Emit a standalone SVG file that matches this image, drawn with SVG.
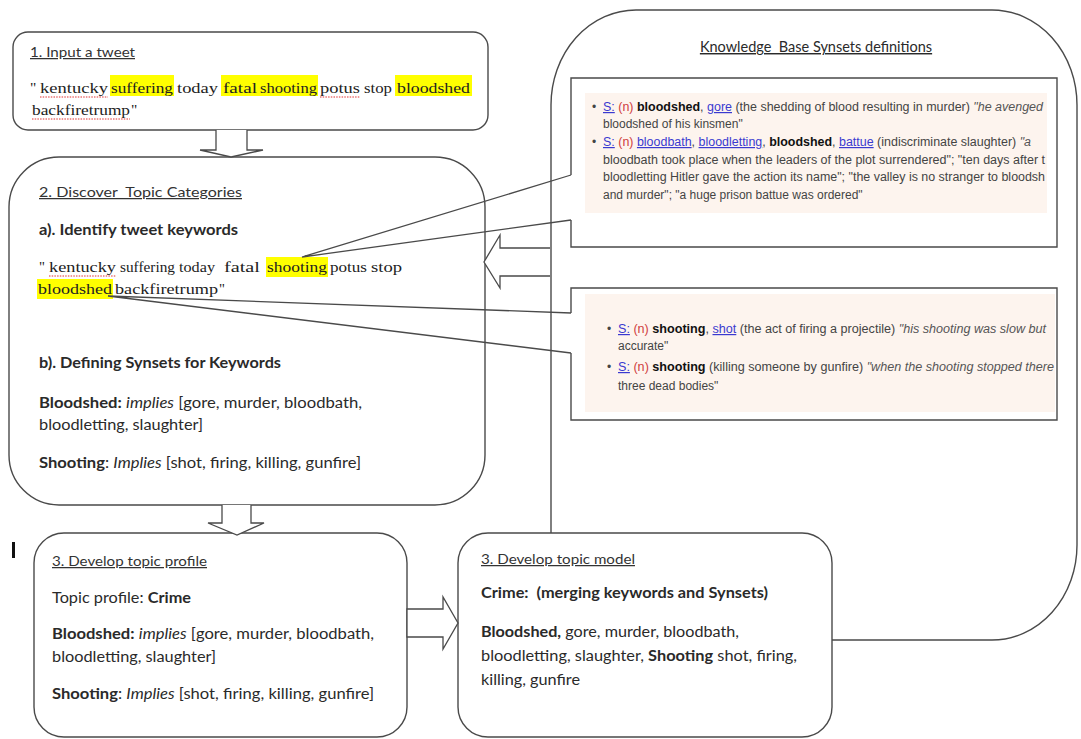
<svg xmlns="http://www.w3.org/2000/svg" width="1081" height="739" viewBox="0 0 1081 739">
  <style>
    .box { fill: #ffffff; stroke: #4a4a4a; stroke-width: 1.4; }
    .arrow { fill: #ffffff; stroke: #4a4a4a; stroke-width: 1.3; stroke-linejoin: miter; }
    .wire { fill: none; stroke: #4a4a4a; stroke-width: 1.3; }
    .cal { font-family: Lato, "Liberation Sans", sans-serif; fill: #2a2a2a; white-space: pre; }
    .head { font-size: 12.5px; text-decoration: underline; fill: #333333; }
    .body { font-size: 14.5px; }
    .b { font-weight: bold; }
    .i { font-style: italic; }
    .tw { font-family: "Liberation Serif", serif; font-size: 15.5px; fill: #222222; }
    .tw2 { font-family: "Liberation Serif", serif; font-size: 14.5px; fill: #222222; }
    .hl { fill: #ffff00; }
    .spell { stroke: #e03030; stroke-width: 1; stroke-dasharray: 1.5 1.2; fill: none; }
    .wn { font-family: "Liberation Sans", Arial, sans-serif; font-size: 12px; fill: #444444; }
    .wn .lk { fill: #3a3ad0; text-decoration: underline; }
    .wn .pos { fill: #d04040; }
    .wn .kw { fill: #111111; font-weight: bold; }
    .wn .ex { font-style: italic; fill: #555555; }
    .shade { fill: #fdf4ee; }
    .panel { fill: #ffffff; stroke: #4a4a4a; stroke-width: 1.4; }
  </style>

  <rect width="1081" height="739" fill="#ffffff"/>

  <!-- knowledge base panel (right) -->
  <g id="kb-panel">
    <rect class="panel" x="551" y="10" width="526" height="630" rx="85" ry="95"/>
    <text class="cal" x="816" y="52" text-anchor="middle" font-size="14.5" text-decoration="underline">Knowledge  Base Synsets definitions</text>
  </g>

  <!-- synset definitions for "bloodshed" -->
  <g id="synsets-bloodshed">
    <path class="panel" d="M571,175 V78 H1057 V247 H571 V220"/>
    <rect class="shade" x="585" y="93" width="462" height="120"/>
    <text class="wn" x="592" y="111">•</text>
    <text class="wn" x="603" y="111" textLength="440" lengthAdjust="spacingAndGlyphs"><tspan class="lk">S:</tspan> <tspan class="pos">(n)</tspan> <tspan class="kw">bloodshed</tspan>, <tspan class="lk">gore</tspan> (the shedding of blood resulting in murder) <tspan class="ex">"he avenged</tspan></text>
    <text class="wn ex" x="603" y="128">bloodshed of his kinsmen"</text>
    <text class="wn" x="592" y="146">•</text>
    <text class="wn" x="603" y="146" textLength="428" lengthAdjust="spacingAndGlyphs"><tspan class="lk">S:</tspan> <tspan class="pos">(n)</tspan> <tspan class="lk">bloodbath</tspan>, <tspan class="lk">bloodletting</tspan>, <tspan class="kw">bloodshed</tspan>, <tspan class="lk">battue</tspan> (indiscriminate slaughter) <tspan class="ex">"a</tspan></text>
    <text class="wn ex" x="603" y="164" textLength="442" lengthAdjust="spacingAndGlyphs">bloodbath took place when the leaders of the plot surrendered"; "ten days after t</text>
    <text class="wn ex" x="603" y="181" textLength="442" lengthAdjust="spacingAndGlyphs">bloodletting Hitler gave the action its name"; "the valley is no stranger to bloodsh</text>
    <text class="wn ex" x="603" y="199">and murder"; "a huge prison battue was ordered"</text>
  </g>

  <!-- synset definitions for "shooting" -->
  <g id="synsets-shooting">
    <path class="panel" d="M571,313 V288 H1057 V420 H571 V353"/>
    <rect class="shade" x="585" y="294" width="470" height="118"/>
    <text class="wn" x="607" y="333">•</text>
    <text class="wn" x="618" y="333" textLength="428" lengthAdjust="spacingAndGlyphs"><tspan class="lk">S:</tspan> <tspan class="pos">(n)</tspan> <tspan class="kw">shooting</tspan>, <tspan class="lk">shot</tspan> (the act of firing a projectile) <tspan class="ex">"his shooting was slow but</tspan></text>
    <text class="wn ex" x="618" y="350">accurate"</text>
    <text class="wn" x="607" y="371">•</text>
    <text class="wn" x="618" y="371" textLength="436" lengthAdjust="spacingAndGlyphs"><tspan class="lk">S:</tspan> <tspan class="pos">(n)</tspan> <tspan class="kw">shooting</tspan> (killing someone by gunfire) <tspan class="ex">"when the shooting stopped there</tspan></text>
    <text class="wn ex" x="618" y="390">three dead bodies"</text>
  </g>

  <!-- step 1 -->
  <g id="step1-input">
    <rect class="box" x="13" y="32" width="475" height="98" rx="15"/>
    <text class="cal head" x="30" y="57" textLength="105" lengthAdjust="spacingAndGlyphs">1. Input a tweet</text>
    <rect class="hl" x="110" y="75" width="64" height="21"/>
    <rect class="hl" x="221" y="75" width="97" height="21"/>
    <rect class="hl" x="395" y="75" width="77" height="21"/>
    <text class="tw" x="30" y="93">"</text>
    <text class="tw" x="40" y="93" textLength="68" lengthAdjust="spacingAndGlyphs">kentucky</text>
    <text class="tw" x="111" y="93" textLength="62" lengthAdjust="spacingAndGlyphs">suffering</text>
    <text class="tw" x="177" y="93" textLength="41" lengthAdjust="spacingAndGlyphs">today</text>
    <text class="tw" x="223" y="93" textLength="34" lengthAdjust="spacingAndGlyphs">fatal</text>
    <text class="tw" x="260" y="93" textLength="57" lengthAdjust="spacingAndGlyphs">shooting</text>
    <text class="tw" x="320" y="93" textLength="40" lengthAdjust="spacingAndGlyphs">potus</text>
    <text class="tw" x="364" y="93" textLength="28" lengthAdjust="spacingAndGlyphs">stop</text>
    <text class="tw" x="397" y="93" textLength="73" lengthAdjust="spacingAndGlyphs">bloodshed</text>
    <text class="tw" x="32" y="115" textLength="98" lengthAdjust="spacingAndGlyphs">backfiretrump</text>
    <text class="tw" x="131" y="115">"</text>
    <path class="spell" d="M40,97 H108 M320,97 H360 M32,119 H130"/>
  </g>

  <!-- step 2 -->
  <g id="step2-discover">
    <rect class="box" x="9" y="157" width="476" height="348" rx="50"/>
    <text class="cal head" x="39" y="197" textLength="203" lengthAdjust="spacingAndGlyphs">2. Discover  Topic Categories</text>
    <text class="cal body b" x="39" y="235" textLength="199" lengthAdjust="spacingAndGlyphs">a). Identify tweet keywords</text>
    <rect class="hl" x="266" y="257" width="62" height="20"/>
    <rect class="hl" x="37" y="279" width="76" height="20"/>
    <text class="tw2" x="39" y="272">"</text>
    <text class="tw2" x="49" y="272" textLength="67" lengthAdjust="spacingAndGlyphs">kentucky</text>
    <text class="tw2" x="120" y="272" textLength="55" lengthAdjust="spacingAndGlyphs">suffering</text>
    <text class="tw2" x="179" y="272" textLength="36" lengthAdjust="spacingAndGlyphs">today</text>
    <text class="tw2" x="224" y="272" textLength="36" lengthAdjust="spacingAndGlyphs">fatal</text>
    <text class="tw2" x="267" y="272" textLength="60" lengthAdjust="spacingAndGlyphs">shooting</text>
    <text class="tw2" x="330" y="272" textLength="37" lengthAdjust="spacingAndGlyphs">potus</text>
    <text class="tw2" x="371" y="272" textLength="31" lengthAdjust="spacingAndGlyphs">stop</text>
    <text class="tw2" x="38" y="294" textLength="74" lengthAdjust="spacingAndGlyphs">bloodshed</text>
    <text class="tw2" x="115" y="294" textLength="103" lengthAdjust="spacingAndGlyphs">backfiretrump</text>
    <text class="tw2" x="219" y="294">"</text>
    <path class="spell" d="M49,276 H116"/>
    <text class="cal body b" x="39" y="368" textLength="242" lengthAdjust="spacingAndGlyphs">b). Defining Synsets for Keywords</text>
    <text class="cal body" x="39" y="408" textLength="323" lengthAdjust="spacingAndGlyphs"><tspan class="b">Bloodshed:</tspan> <tspan class="i">implies</tspan> [gore, murder, bloodbath,</text>
    <text class="cal body" x="39" y="430" textLength="164" lengthAdjust="spacingAndGlyphs">bloodletting, slaughter]</text>
    <text class="cal body" x="39" y="468" textLength="322" lengthAdjust="spacingAndGlyphs"><tspan class="b">Shooting</tspan>: <tspan class="i">Implies</tspan> [shot, firing, killing, gunfire]</text>
  </g>

  <!-- step 3: topic profile -->
  <g id="step3-profile">
    <rect class="box" x="34" y="533" width="373" height="204" rx="30"/>
    <rect x="12" y="542" width="3" height="16" fill="#111111"/>
    <text class="cal head" x="52" y="566" textLength="155" lengthAdjust="spacingAndGlyphs">3. Develop topic profile</text>
    <text class="cal body" x="52" y="603" textLength="139" lengthAdjust="spacingAndGlyphs">Topic profile: <tspan class="b">Crime</tspan></text>
    <text class="cal body" x="52" y="639" textLength="322" lengthAdjust="spacingAndGlyphs"><tspan class="b">Bloodshed:</tspan> <tspan class="i">implies</tspan> [gore, murder, bloodbath,</text>
    <text class="cal body" x="52" y="662" textLength="164" lengthAdjust="spacingAndGlyphs">bloodletting, slaughter]</text>
    <text class="cal body" x="52" y="699" textLength="322" lengthAdjust="spacingAndGlyphs"><tspan class="b">Shooting</tspan>: <tspan class="i">Implies</tspan> [shot, firing, killing, gunfire]</text>
  </g>

  <!-- step 3: topic model -->
  <g id="step3-model">
    <rect class="box" x="458" y="533" width="374" height="204" rx="30"/>
    <text class="cal head" x="481" y="564" textLength="154" lengthAdjust="spacingAndGlyphs">3. Develop topic model</text>
    <text class="cal body b" x="481" y="598" textLength="287" lengthAdjust="spacingAndGlyphs">Crime:  (merging keywords and Synsets)</text>
    <text class="cal body" x="481" y="637" textLength="258" lengthAdjust="spacingAndGlyphs"><tspan class="b">Bloodshed,</tspan> gore, murder, bloodbath,</text>
    <text class="cal body" x="481" y="661" textLength="316" lengthAdjust="spacingAndGlyphs">bloodletting, slaughter, <tspan class="b">Shooting</tspan> shot, firing,</text>
    <text class="cal body" x="481" y="685" textLength="99" lengthAdjust="spacingAndGlyphs">killing, gunfire</text>
  </g>

  <!-- block arrows and callout pointers -->
  <g id="connectors">
    <path class="arrow" d="M216,130 V150 H200 L231,157 L263,150 H247 V130"/>
    <path class="arrow" d="M222,505 V523 H208 L237,535 L264,523 H251 V505"/>
    <path class="arrow" d="M407,609 H443 V597 L458,623 L443,649 V637 H407 Z"/>
    <path class="arrow" d="M550,248 H500 V235 L484,262 L500,288 V276 H550"/>
    <path class="wire" d="M571,175 L302,257 L571,220"/>
    <path class="wire" d="M571,313 L108,296 L571,353"/>
  </g>
</svg>
